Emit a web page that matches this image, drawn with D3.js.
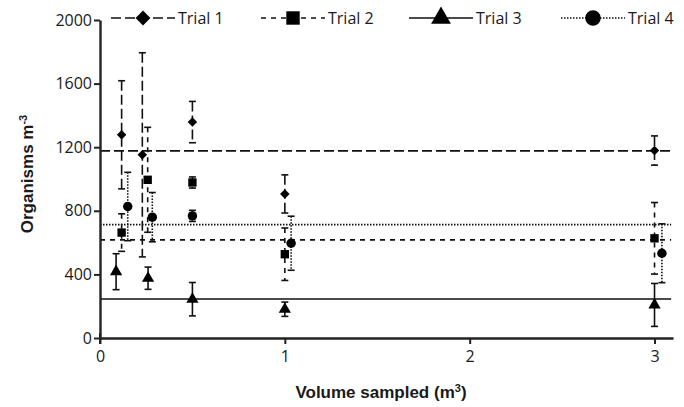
<!DOCTYPE html>
<html>
<head>
<meta charset="utf-8">
<script src="https://cdn.jsdelivr.net/npm/d3@7"></script>
<style>
  body { margin: 0; background: #fff; }
  text { fill: #1a1a1a; }
</style>
</head>
<body>
<div id="chart"></div>
<script>
var svgWidth = 684;
var svgHeight = 407;

var margin = { top: 20, right: 11, bottom: 69, left: 100 };
var width = svgWidth - margin.left - margin.right;
var height = svgHeight - margin.top - margin.bottom;

// data: volume (m3), mean and error (organisms m-3)
var trialNames = ["Trial 1", "Trial 2", "Trial 3", "Trial 4"];
var trial1X = [0.117, 0.229, 0.5, 1, 3];
var trial1Y = [1278, 1152, 1358, 906, 1179];
var trial1Err = [340, 642, 130, 120, 92];
var trial2X = [0.117, 0.258, 0.5, 1, 3];
var trial2Y = [663, 995, 978, 527, 627];
var trial2Err = [118, 330, 35, 165, 225];
var trial3X = [0.087, 0.26, 0.5, 1, 3];
var trial3Y = [417, 376, 244, 181, 208];
var trial3Err = [113, 70, 105, 45, 135];
var trial4X = [0.15, 0.283, 0.5, 1.034, 3.04];
var trial4Y = [827, 760, 768, 596, 533];
var trial4Err = [215, 155, 35, 170, 185];
var trialMeans = [1177, 617, 245, 713];
var xTicks = [0, 1, 2, 3];
var yTicks = [0, 400, 800, 1200, 1600, 2000];

var dashes = ["10,4", "5,5", null, "1.5,1.5"];
// diamond drawn as a rotated square
var symbols = [d3.symbolSquare, d3.symbolSquare, d3.symbolTriangle, d3.symbolCircle];
var symRot = [45, 0, 0, 0];
var symSizes = [45, 70, 65, 70];

var trials = [
  { x: trial1X, y: trial1Y, e: trial1Err },
  { x: trial2X, y: trial2Y, e: trial2Err },
  { x: trial3X, y: trial3Y, e: trial3Err },
  { x: trial4X, y: trial4Y, e: trial4Err }
];

var svg = d3.select("#chart").append("svg")
  .attr("width", svgWidth)
  .attr("height", svgHeight);

var chartGroup = svg.append("g")
  .attr("transform", `translate(${margin.left}, ${margin.top})`);

var xScale = d3.scaleLinear().domain([0, 3.1]).range([0, width]);
var yScale = d3.scaleLinear().domain([0, 2000]).range([height, 0]);

// mean lines
trialMeans.forEach(function(m, i) {
  chartGroup.append("line")
    .attr("x1", 0).attr("x2", xScale(3.09))
    .attr("y1", yScale(m)).attr("y2", yScale(m))
    .attr("stroke", "#111")
    .attr("stroke-width", 1.6)
    .attr("stroke-dasharray", dashes[i]);
});

// error bars and points
trials.forEach(function(t, i) {
  var pts = t.x.map((x, j) => ({ x: x, y: t.y[j], e: t.e[j] }));
  var g = chartGroup.append("g");

  g.selectAll("line.err").data(pts).enter().append("line")
    .attr("x1", d => xScale(d.x)).attr("x2", d => xScale(d.x))
    .attr("y1", d => yScale(d.y + d.e)).attr("y2", d => yScale(d.y - d.e))
    .attr("stroke", "#111").attr("stroke-width", 1.6)
    .attr("stroke-dasharray", dashes[i]);

  [1, -1].forEach(function(s) {
    g.selectAll("line.cap" + s).data(pts).enter().append("line")
      .attr("x1", d => xScale(d.x) - 3.5).attr("x2", d => xScale(d.x) + 3.5)
      .attr("y1", d => yScale(d.y + s * d.e)).attr("y2", d => yScale(d.y + s * d.e))
      .attr("stroke", "#111").attr("stroke-width", 1.6);
  });

  g.selectAll("path").data(pts).enter().append("path")
    .attr("transform", d => `translate(${xScale(d.x)},${yScale(d.y)}) rotate(${symRot[i]})`)
    .attr("d", d3.symbol().type(symbols[i]).size(symSizes[i]))
    .attr("fill", "#000");
});

// axes
var xAxis = chartGroup.append("g")
  .attr("transform", `translate(0, ${height})`)
  .call(d3.axisBottom(xScale).tickValues(xTicks).tickSize(6).tickSizeOuter(0).tickFormat(d3.format("d")));

var yAxis = chartGroup.append("g")
  .call(d3.axisLeft(yScale).tickValues(yTicks).tickSize(6).tickSizeOuter(0).tickFormat(d3.format("d")));

[xAxis, yAxis].forEach(function(ax) {
  ax.select(".domain").attr("stroke", "#222").attr("stroke-width", 2.4);
  ax.selectAll(".tick line").attr("stroke", "#222").attr("stroke-width", 2);
  ax.selectAll(".tick text")
    .style("font-family", "'Open Sans', sans-serif")
    .style("font-size", "16px")
    .attr("fill", "#111");
});
xAxis.selectAll(".tick text").attr("dy", "0.95em");
yAxis.selectAll(".tick text").attr("x", -8);
// small downward tick at origin
xAxis.append("line").attr("x1", 0).attr("x2", 0).attr("y1", -5).attr("y2", 6)
  .attr("stroke", "#222").attr("stroke-width", 2);

// axis titles
var yTitle = svg.append("text")
  .attr("transform", `translate(33, ${margin.top + height / 2 - 5}) rotate(-90)`)
  .attr("text-anchor", "middle")
  .style("font-family", "'Liberation Sans', Arial, sans-serif")
  .style("font-size", "17px")
  .style("font-weight", "bold");
yTitle.append("tspan").text("Organisms m");
yTitle.append("tspan").attr("dy", -6).style("font-size", "11px").text("-3");

var xTitle = svg.append("text")
  .attr("x", margin.left + 281)
  .attr("y", 398)
  .attr("text-anchor", "middle")
  .style("font-family", "'Liberation Sans', Arial, sans-serif")
  .style("font-size", "17px")
  .style("font-weight", "bold");
xTitle.append("tspan").text("Volume sampled (m");
xTitle.append("tspan").attr("dy", -6).style("font-size", "11px").text("3");
xTitle.append("tspan").attr("dy", 6).text(")");

// legend
var legendX = [111, 261, 409, 561];
var legendSizes = [110, 180, 170, 190];
var legend = svg.append("g");
trialNames.forEach(function(name, i) {
  var lg = legend.append("g").attr("transform", `translate(${legendX[i]}, 18)`);
  lg.append("line").attr("x1", 0).attr("x2", 64)
    .attr("stroke", "#111").attr("stroke-width", 1.6)
    .attr("stroke-dasharray", dashes[i]);
  lg.append("path")
    .attr("transform", `translate(32,0) rotate(${symRot[i]})`)
    .attr("d", d3.symbol().type(symbols[i]).size(legendSizes[i]))
    .attr("fill", "#000");
  lg.append("text")
    .attr("x", 67).attr("y", 5.5)
    .style("font-family", "'Open Sans', sans-serif")
    .style("font-size", "16px")
    .text(name);
});
</script>
</body>
</html>
